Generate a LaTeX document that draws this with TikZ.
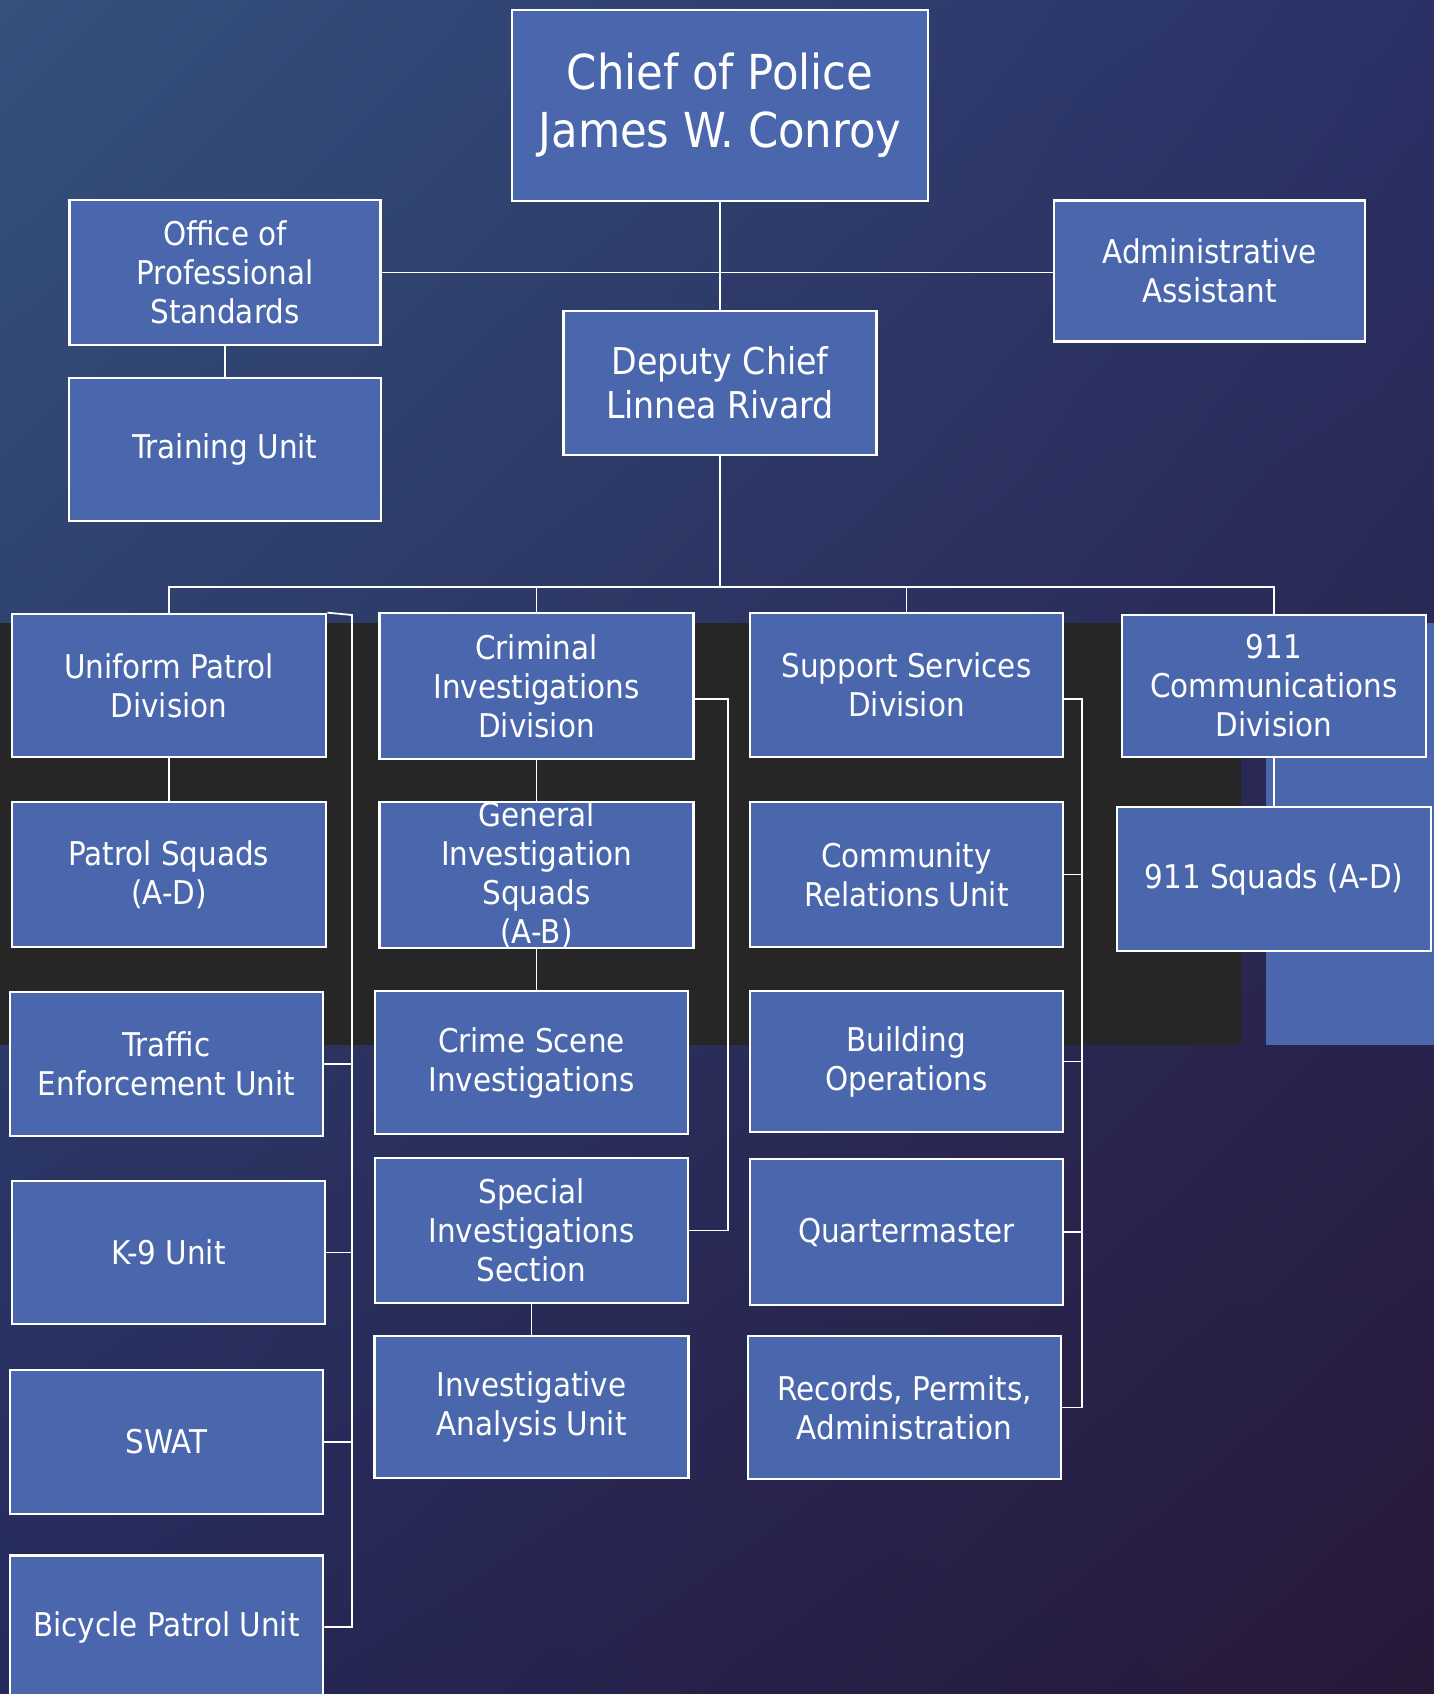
\documentclass[tikz,border=0pt]{standalone}
\usepackage{fontspec}
\setmainfont{DejaVu Sans Condensed}
\usepackage{tikz}
\usetikzlibrary{calc,shadings}
\definecolor{unitblue}{RGB}{74,103,174}
\definecolor{bandgray}{RGB}{38,38,38}
\definecolor{bgtl}{RGB}{53,81,124}
\definecolor{bgtr}{RGB}{42,49,102}
\definecolor{bgbl}{RGB}{37,42,92}
\definecolor{bgbr}{RGB}{40,24,56}

\begin{document}
\begin{tikzpicture}[x=0.01cm, y=-0.01cm,
  unit/.style={draw=white, line width=0.75pt, fill=unitblue, text=white, align=center,
    minimum width=3.13cm, minimum height=1.43cm, inner sep=0pt,
    font=\fontsize{9.3}{11.1}\selectfont},
  link/.style={draw=white, line width=0.5pt}]
\useasboundingbox (0,0) rectangle (1434,1694);
\shade[upper left=bgtl, upper right=bgtr, lower left=bgbl, lower right=bgbr] (0,0) rectangle (1434,1694);
\fill[bandgray] (0,623) rectangle (1241,1045);
\fill[unitblue] (1266,623) rectangle (1434,1045);

\node[unit, minimum width=4.16cm, minimum height=1.91cm, font=\fontsize{13.7}{16.5}\selectfont] (chief) at (720,105.5) {Chief of Police\\James W. Conroy};
\node[unit, minimum width=3.11cm, minimum height=1.45cm] (ops) at (225,272.5) {Office of\\Professional\\Standards};
\node[unit, minimum width=3.11cm, minimum height=1.41cm] (admin) at (1209.5,271) {Administrative\\Assistant};
\node[unit, minimum height=1.44cm, font=\fontsize{10.5}{12.6}\selectfont] (deputy) at (720,383) {Deputy Chief\\Linnea Rivard};
\node[unit, minimum width=3.12cm] (training) at (225,449.5) {Training Unit};

\node[unit, minimum width=3.14cm] (upd) at (169,685.5) {Uniform Patrol\\Division};
\node[unit, minimum width=3.14cm, minimum height=1.46cm] (cid) at (536.5,686) {Criminal\\Investigations\\Division};
\node[unit, minimum height=1.44cm] (ssd) at (906.5,685) {Support Services\\Division};
\node[unit, minimum width=3.04cm, minimum height=1.42cm] (comm) at (1274,686) {911\\Communications\\Division};

\node[unit, minimum width=3.14cm, minimum height=1.45cm] (ps) at (169,874.5) {Patrol Squads\\(A-D)};
\node[unit, minimum width=3.14cm, minimum height=1.46cm] (gis) at (536.5,875) {General\\Investigation\\Squads\\(A-B)};
\node[unit, minimum height=1.45cm] (cru) at (906.5,874.5) {Community\\Relations Unit};
\node[unit, minimum width=3.14cm, minimum height=1.44cm] (squads) at (1274,879) {911 Squads (A-D)};

\node[unit, minimum height=1.44cm] (traffic) at (166.5,1064) {Traffic\\Enforcement Unit};
\node[unit] (csi) at (531.5,1062.5) {Crime Scene\\Investigations};
\node[unit, minimum height=1.41cm] (bo) at (906.5,1061.5) {Building\\Operations};

\node[unit] (k9) at (168.5,1252.5) {K-9 Unit};
\node[unit, minimum height=1.45cm] (sis) at (531.5,1230.5) {Special\\Investigations\\Section};
\node[unit, minimum height=1.46cm] (qm) at (906.5,1232) {Quartermaster};

\node[unit, minimum height=1.44cm] (swat) at (166.5,1442) {SWAT};
\node[unit, minimum width=3.14cm, minimum height=1.42cm] (iau) at (531.5,1407) {Investigative\\Analysis Unit};
\node[unit] (records) at (904.5,1407.5) {Records, Permits,\\Administration};

\node[unit] (bike) at (166.5,1627) {Bicycle Patrol Unit};

\coordinate (bus) at (720,587);
\coordinate (updrail) at (352,615);
\coordinate (cidrail) at (728,699);
\coordinate (ssdrail) at (1082,699);

\draw[link] (chief.south) -- (deputy.north);
\draw[link] (ops.east) -- (ops.east -| admin.west);
\draw[link] (ops.south) -- (training.north);
\draw[link] (deputy.south) -- (bus);
\draw[link] (upd.north) |- (bus) -| (comm.north);
\draw[link] (cid.north) -- (cid.north |- bus);
\draw[link] (ssd.north) -- (ssd.north |- bus);

\draw[link] (upd.south) -- (ps.north);
\draw[link] (upd.north east) -- (updrail) |- (bike.east);
\foreach \u in {traffic,k9,swat}
  \draw[link] (\u.east) -- (\u.east -| updrail);

\draw[link] (cid.south) -- (gis.north);
\draw[link] (gis.south) -- (gis.south |- csi.north);
\draw[link] (cid.east |- cidrail) -- (cidrail) |- (sis.east);
\draw[link] (sis.south) -- (iau.north);

\draw[link] (ssd.east |- ssdrail) -- (ssdrail) |- (records.east);
\foreach \u in {cru,bo,qm}
  \draw[link] (\u.east) -- (\u.east -| ssdrail);

\draw[link] (comm.south) -- (squads.north);
\end{tikzpicture}
\end{document}
